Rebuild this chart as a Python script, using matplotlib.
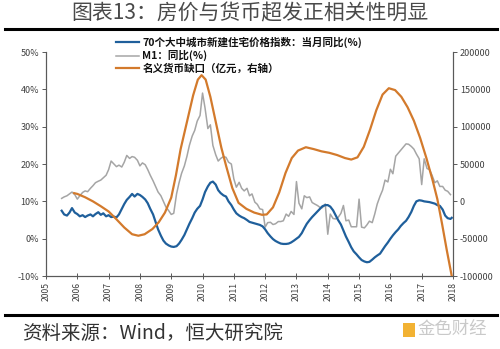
import matplotlib
matplotlib.use("Agg")
import matplotlib.pyplot as plt
from matplotlib.lines import Line2D
from matplotlib.patches import Rectangle

plt.rcParams['font.family'] = ['Noto Sans CJK SC', 'DejaVu Sans']

# 70城新建住宅价格指数当月同比 (%)
hp_t = [2005.50, 2005.58, 2005.67, 2005.75, 2005.83, 2005.92, 2006.00, 2006.08, 2006.17, 2006.25,
        2006.33, 2006.42, 2006.50, 2006.58, 2006.67, 2006.75, 2006.83, 2006.92, 2007.00, 2007.08,
        2007.17, 2007.25, 2007.33, 2007.42, 2007.50, 2007.58, 2007.67, 2007.75, 2007.83, 2007.92,
        2008.00, 2008.08, 2008.17, 2008.25, 2008.33, 2008.42, 2008.50, 2008.58, 2008.67, 2008.75,
        2008.83, 2008.92, 2009.00, 2009.08, 2009.17, 2009.25, 2009.33, 2009.42, 2009.50, 2009.58,
        2009.67, 2009.75, 2009.83, 2009.92, 2010.00, 2010.08, 2010.17, 2010.25, 2010.33, 2010.42,
        2010.50, 2010.58, 2010.67, 2010.75, 2010.83, 2010.92, 2011.00, 2011.08, 2011.17, 2011.25,
        2011.33, 2011.42, 2011.50, 2011.58, 2011.67, 2011.75, 2011.83, 2011.92, 2012.00, 2012.08,
        2012.17, 2012.25, 2012.33, 2012.42, 2012.50, 2012.58, 2012.67, 2012.75, 2012.83, 2012.92,
        2013.00, 2013.08, 2013.17, 2013.25, 2013.33, 2013.42, 2013.50, 2013.58, 2013.67, 2013.75,
        2013.83, 2013.92, 2014.00, 2014.08, 2014.17, 2014.25, 2014.33, 2014.42, 2014.50, 2014.58,
        2014.67, 2014.75, 2014.83, 2014.92, 2015.00, 2015.08, 2015.17, 2015.25, 2015.33, 2015.42,
        2015.50, 2015.58, 2015.67, 2015.75, 2015.83, 2015.92, 2016.00, 2016.08, 2016.17, 2016.25,
        2016.33, 2016.42, 2016.50, 2016.58, 2016.67, 2016.75, 2016.83, 2016.92, 2017.00, 2017.08,
        2017.17, 2017.25, 2017.33, 2017.42, 2017.50, 2017.58, 2017.67, 2017.75, 2017.83, 2017.92,
        2017.96]
hp_v = [7.5, 6.5, 6.2, 7.0, 8.2, 7.0, 6.6, 6.0, 6.3, 5.8,
        6.2, 6.5, 6.0, 6.6, 7.1, 6.4, 6.8, 6.0, 6.3, 5.8,
        5.9, 5.7, 6.5, 8.0, 9.3, 10.4, 11.2, 12.0, 11.3, 12.0,
        11.7, 11.2, 10.5, 9.5, 8.0, 6.5, 4.5, 2.5, 0.8, -0.5,
        -1.3, -1.8, -2.1, -2.2, -2.0, -1.3, -0.3, 1.0, 2.5, 4.0,
        5.5, 7.0, 8.0, 8.8, 10.5, 12.5, 14.0, 15.0, 15.3, 14.5,
        13.0, 12.2, 11.6, 11.3, 10.0, 9.0, 7.8, 6.8, 6.2, 5.8,
        5.5, 5.0, 4.5, 4.3, 4.1, 3.9, 3.7, 3.3, 2.5, 1.5,
        0.6, -0.1, -0.6, -1.0, -1.3, -1.4, -1.4, -1.3, -1.0, -0.5,
        0.0, 0.5, 1.5, 2.8, 4.0, 5.0, 5.8, 6.5, 7.3, 8.0,
        8.7, 9.0, 9.0, 8.6, 7.6, 6.3, 5.0, 3.8, 2.2, 0.6,
        -0.9, -2.3, -3.4, -4.2, -5.0, -5.7, -6.1, -6.3, -6.2, -5.6,
        -5.0, -4.5, -4.0, -3.0, -2.0, -1.0, 0.0, 0.9, 1.8, 2.5,
        3.4, 4.2, 4.8, 5.8, 7.2, 8.8, 10.0, 10.3, 10.2, 10.0,
        9.9, 9.8, 9.6, 9.4, 9.0, 8.8, 7.8, 6.2, 5.5, 5.3,
        5.6]

# M1同比 (%)
m1_t = [2005.50, 2005.58, 2005.67, 2005.75, 2005.83, 2005.92, 2006.00, 2006.08, 2006.17, 2006.25,
        2006.33, 2006.42, 2006.50, 2006.58, 2006.67, 2006.75, 2006.83, 2006.92, 2007.00, 2007.08,
        2007.17, 2007.25, 2007.33, 2007.42, 2007.50, 2007.58, 2007.67, 2007.75, 2007.83, 2007.92,
        2008.00, 2008.08, 2008.17, 2008.25, 2008.33, 2008.42, 2008.50, 2008.58, 2008.67, 2008.75,
        2008.83, 2008.92, 2009.00, 2009.08, 2009.17, 2009.25, 2009.33, 2009.42, 2009.50, 2009.58,
        2009.67, 2009.75, 2009.83, 2009.92, 2010.00, 2010.08, 2010.17, 2010.25, 2010.33, 2010.42,
        2010.50, 2010.58, 2010.67, 2010.75, 2010.83, 2010.92, 2011.00, 2011.08, 2011.17, 2011.25,
        2011.33, 2011.42, 2011.50, 2011.58, 2011.67, 2011.75, 2011.83, 2011.92, 2012.00, 2012.08,
        2012.17, 2012.25, 2012.33, 2012.42, 2012.50, 2012.58, 2012.67, 2012.75, 2012.83, 2012.92,
        2013.00, 2013.08, 2013.17, 2013.25, 2013.33, 2013.42, 2013.50, 2013.58, 2013.67, 2013.75,
        2013.83, 2013.92, 2014.00, 2014.08, 2014.17, 2014.25, 2014.33, 2014.42, 2014.50, 2014.58,
        2014.67, 2014.75, 2014.83, 2014.92, 2015.00, 2015.08, 2015.17, 2015.25, 2015.33, 2015.42,
        2015.50, 2015.58, 2015.67, 2015.75, 2015.83, 2015.92, 2016.00, 2016.08, 2016.17, 2016.25,
        2016.33, 2016.42, 2016.50, 2016.58, 2016.67, 2016.75, 2016.83, 2016.92, 2017.00, 2017.08,
        2017.17, 2017.25, 2017.33, 2017.42, 2017.50, 2017.58, 2017.67, 2017.75, 2017.83, 2017.92]
m1_v = [10.8, 11.2, 11.5, 12.0, 12.5, 11.8, 10.6, 11.5, 12.4, 12.8,
        12.6, 13.5, 14.2, 15.0, 15.4, 15.7, 16.3, 17.0, 18.5, 20.8,
        20.0, 19.3, 19.7, 19.2, 20.5, 22.3, 21.5, 22.0, 21.8, 21.0,
        19.5, 20.3, 19.8, 18.5, 17.0, 15.5, 14.0, 12.5, 11.5, 10.0,
        8.5, 7.5, 6.5, 6.8, 12.0, 15.0, 17.5, 19.5, 22.0, 25.0,
        27.5, 29.0, 31.5, 33.0, 39.0, 35.0, 29.5, 30.5, 25.0, 22.5,
        20.8, 21.5, 22.0, 21.8, 20.5, 20.0, 16.0, 13.8, 15.1, 13.5,
        12.8, 13.5, 11.5, 12.0, 9.8, 9.2, 8.0, 7.8, 3.1, 4.3,
        4.4, 3.8, 4.0, 4.6, 4.6, 4.8, 6.6, 6.0, 7.3, 6.5,
        15.3, 9.5, 8.0, 11.5, 11.0, 11.2, 9.7, 9.3, 8.9, 8.4,
        8.3, 9.3, 1.2, 6.6, 5.4, 5.3, 5.7, 6.8, 8.9, 4.8,
        5.0, 3.2, 3.2, 3.2, 10.6, 3.1, 2.9, 3.7, 4.7, 4.3,
        6.6, 9.3, 11.4, 13.0, 15.7, 15.2, 18.6, 17.4, 22.1, 22.9,
        23.7, 24.6, 25.4, 25.3, 24.7, 24.0, 22.7, 21.4, 14.5, 21.4,
        18.8, 18.5, 17.0, 15.0, 15.5, 14.0, 14.0, 13.0, 12.7, 11.8]

# 名义货币缺口 (亿元, 右轴)
gap_t = [2005.90, 2006.00, 2006.25, 2006.50, 2006.75, 2007.00, 2007.25, 2007.50, 2007.75, 2007.95,
         2008.15, 2008.40, 2008.60, 2008.80, 2009.00, 2009.15, 2009.30, 2009.50, 2009.70, 2009.85,
         2009.97, 2010.10, 2010.25, 2010.45, 2010.60, 2010.75, 2010.95, 2011.15, 2011.40, 2011.65,
         2011.90, 2012.05, 2012.25, 2012.45, 2012.65, 2012.85, 2013.05, 2013.30, 2013.55, 2013.80,
         2014.05, 2014.30, 2014.55, 2014.75, 2014.95, 2015.15, 2015.35, 2015.55, 2015.75, 2015.95,
         2016.15, 2016.35, 2016.55, 2016.75, 2016.95, 2017.15, 2017.35, 2017.50, 2017.65, 2017.80,
         2017.96]
gap_v = [11000, 10000, 5500, 0, -6500, -13500, -24000, -35000, -44000, -46000,
         -44000, -37000, -28000, -15000, 5000, 35000, 70000, 106000, 142000, 163000,
         169000, 163000, 140000, 101000, 72000, 48000, 18000, -2000, -10000, -15000,
         -18000, -17500, -8000, 12000, 38000, 58000, 68000, 72500, 70000, 67000,
         65000, 62000, 58000, 56000, 59000, 73000, 96000, 122000, 143000, 151500,
         149000, 140000, 126000, 108000, 85000, 58000, 28000, 3000, -30000, -65000,
         -100000]

years = list(range(2005, 2019))
left_ticks = [-10, 0, 10, 20, 30, 40, 50]
right_ticks = [-100000, -50000, 0, 50000, 100000, 150000, 200000]

labels = ['70个大中城市新建住宅价格指数：当月同比(%)', 'M1：同比(%)', '名义货币缺口（亿元，右轴）']
c_blue, c_gray, c_orange = '#1F5F9B', '#A5A5A5', '#D37A2C'
axis_col = '#595959'
txt_col = '#404040'

fig = plt.figure(figsize=(5.0, 3.49), dpi=100)
ax = fig.add_axes([0.092, 0.209, 0.814, 0.642])
ax2 = ax.twinx()

ax.plot(m1_t, m1_v, color=c_gray, lw=1.1, zorder=2)
ax.plot(hp_t, hp_v, color=c_blue, lw=1.6, zorder=3)
ax2.plot(gap_t, gap_v, color=c_orange, lw=1.6, zorder=3)

ax.set_xlim(2005, 2018)
ax.set_ylim(-10, 50)
ax2.set_ylim(-100000, 200000)
ax.set_xticks(years)
ax.set_xticklabels([str(y) for y in years], rotation=90, fontsize=6.2, color=txt_col)
ax.set_yticks(left_ticks)
ax.set_yticklabels([f'{v}%' for v in left_ticks], fontsize=6.5, color=txt_col)
ax2.set_yticks(right_ticks)
ax2.set_yticklabels([str(v) for v in right_ticks], fontsize=6.5, color=txt_col)

for a in (ax, ax2):
    a.spines['top'].set_visible(False)
    for s in ('left', 'right', 'bottom'):
        a.spines[s].set_color(axis_col)
        a.spines[s].set_linewidth(0.8)
    a.tick_params(length=3, width=0.7, color=axis_col, pad=2)
ax.tick_params(axis='x', direction='inout', length=4)

handles = [Line2D([], [], color=c_blue, lw=1.6),
           Line2D([], [], color=c_gray, lw=1.1),
           Line2D([], [], color=c_orange, lw=1.6)]
leg = fig.legend(handles, labels, loc='upper left', bbox_to_anchor=(0.232, 0.895),
                 frameon=False, handlelength=2.2, handletextpad=0.3, labelspacing=0.22,
                 borderaxespad=0, borderpad=0,
                 prop={'family': ['Noto Sans CJK SC', 'DejaVu Sans'], 'weight': 'bold', 'size': 7.6})
for t in leg.get_texts():
    t.set_color('#111111')

# header and footer
fig.text(0.5, 0.962, '图表13：房价与货币超发正相关性明显', ha='center', va='center',
         fontsize=15, color='#4a4a4a')
fig.add_artist(Line2D([0.01, 0.994], [0.918, 0.918], transform=fig.transFigure,
                      color='black', lw=2.2))
fig.add_artist(Line2D([0.01, 0.994], [0.098, 0.098], transform=fig.transFigure,
                      color='black', lw=2.2))
fig.text(0.044, 0.044, '资料来源：Wind，恒大研究院', ha='left', va='center',
         fontsize=14, color='#333333')
fig.add_artist(Rectangle((0.806, 0.035), 0.024, 0.04, transform=fig.transFigure,
                         color='#F2B233', lw=0))
fig.text(0.834, 0.056, '金色财经', ha='left', va='center', fontsize=12.5, color='#c9c9c9')

fig.savefig('out.png', dpi=100)
